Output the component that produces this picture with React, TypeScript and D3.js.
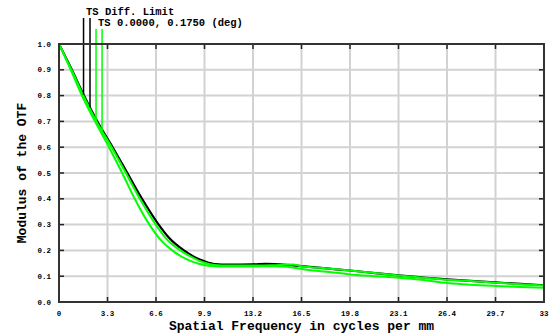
import React from "react";
import * as d3 from "d3";

// Spatial frequency (cycles/mm) and MTF value pairs
const diffLimit: [number, number][] = [
  [0, 1.0], [0.85, 0.903], [1.7, 0.8], [2.6, 0.7], [3.65, 0.6],
  [4.65, 0.5], [5.65, 0.4], [6.78, 0.3], [7.5, 0.248], [8.5, 0.2], [9.2, 0.175],
  [9.9, 0.158], [10.6, 0.147], [11.5, 0.145], [13.2, 0.146], [14.1, 0.148],
  [15.0, 0.146], [16.5, 0.139], [18.2, 0.13], [19.8, 0.122], [21.5, 0.112],
  [23.1, 0.103], [24.8, 0.095], [26.4, 0.088], [28.0, 0.082], [29.7, 0.076],
  [31.4, 0.07], [33, 0.065],
];

const fieldT: [number, number][] = [
  [0, 1.0], [0.85, 0.9], [1.7, 0.795], [2.55, 0.7], [3.58, 0.6],
  [4.55, 0.5], [5.5, 0.4], [6.58, 0.3], [7.3, 0.245], [8.25, 0.2], [9.1, 0.172],
  [9.9, 0.152], [10.6, 0.143], [11.5, 0.141], [13.2, 0.141], [14.5, 0.142],
  [15.9, 0.145], [16.5, 0.139], [18.2, 0.13], [19.8, 0.122], [21.5, 0.112],
  [23.1, 0.103], [24.8, 0.094], [26.4, 0.086], [28.0, 0.081], [29.7, 0.075],
  [31.4, 0.069], [33, 0.064],
];

const fieldS: [number, number][] = [
  [0, 1.0], [0.8, 0.9], [1.6, 0.795], [2.45, 0.7], [3.4, 0.6],
  [4.3, 0.5], [5.15, 0.4], [6.15, 0.3], [6.85, 0.245], [7.7, 0.2], [8.6, 0.168],
  [9.5, 0.148], [10.3, 0.14], [11.5, 0.138], [13.2, 0.138], [14.5, 0.139],
  [15.5, 0.137], [16.5, 0.128], [18.2, 0.117], [19.8, 0.107], [21.5, 0.1],
  [23.1, 0.094], [24.8, 0.085], [26.4, 0.074], [28.0, 0.067], [29.7, 0.062],
  [31.4, 0.058], [33, 0.055],
];

const xTicks = [0, 3.3, 6.6, 9.9, 13.2, 16.5, 19.8, 23.1, 26.4, 29.7, 33];
const xTickLabels = ["0", "3.3", "6.6", "9.9", "13.2", "16.5", "19.8", "23.1", "26.4", "29.7", "33"];
const yTicks = [0, 0.1, 0.2, 0.3, 0.4, 0.5, 0.6, 0.7, 0.8, 0.9, 1.0];
const yTickLabels = ["0.0", "0.1", "0.2", "0.3", "0.4", "0.5", "0.6", "0.7", "0.8", "0.9", "1.0"];

// Legend marker frequencies: T and S for each entry
const diffMarkers = [1.67, 2.11];
const fieldMarkers = [2.52, 2.93];

const W = 550;
const H = 335;
const left = 59;
const right = 544;
const top = 44;
const bottom = 302;

const MONO = "'Liberation Mono', 'DejaVu Sans Mono', monospace";

function valueAt(series: [number, number][], f: number): number {
  const i = d3.bisector((d: [number, number]) => d[0]).right(series, f);
  if (i <= 0) return series[0][1];
  if (i >= series.length) return series[series.length - 1][1];
  const [x0, y0] = series[i - 1];
  const [x1, y1] = series[i];
  return y0 + ((f - x0) / (x1 - x0)) * (y1 - y0);
}

export default function App() {
  const x = d3.scaleLinear().domain([0, 33]).range([left, right]);
  const y = d3.scaleLinear().domain([0, 1]).range([bottom, top]);
  const line = d3
    .line<[number, number]>()
    .x((d) => x(d[0]))
    .y((d) => y(d[1]))
    .curve(d3.curveMonotoneX);

  const tickLen = 5;

  return (
    <svg
      width={W}
      height={H}
      style={{ position: "absolute", left: 0, top: 0, background: "#fff" }}
    >
      {/* grid */}
      {xTicks.slice(1, -1).map((t) => (
        <line key={"gx" + t} x1={x(t)} x2={x(t)} y1={top} y2={bottom} stroke="#d2d2d2" strokeWidth={2} />
      ))}
      {yTicks.slice(1, -1).map((t) => (
        <line key={"gy" + t} x1={left} x2={right} y1={y(t)} y2={y(t)} stroke="#d2d2d2" strokeWidth={2} />
      ))}

      {/* tick marks on all four sides */}
      {xTicks.slice(1, -1).map((t) => (
        <g key={"tx" + t} stroke="#222" strokeWidth={1.5}>
          <line x1={x(t)} x2={x(t)} y1={bottom} y2={bottom - tickLen} />
          <line x1={x(t)} x2={x(t)} y1={top} y2={top + tickLen} />
        </g>
      ))}
      {yTicks.slice(1, -1).map((t) => (
        <g key={"ty" + t} stroke="#222" strokeWidth={1.5}>
          <line x1={left} x2={left + tickLen} y1={y(t)} y2={y(t)} />
          <line x1={right} x2={right - tickLen} y1={y(t)} y2={y(t)} />
        </g>
      ))}

      {/* curves */}
      <path d={line(diffLimit) ?? ""} fill="none" stroke="#000" strokeWidth={2.2} />
      <path d={line(fieldS) ?? ""} fill="none" stroke="#00ff00" strokeWidth={2} />
      <path d={line(fieldT) ?? ""} fill="none" stroke="#00ff00" strokeWidth={2} />

      {/* legend markers dropping onto the curves */}
      {diffMarkers.map((f) => (
        <line key={"dm" + f} x1={x(f)} x2={x(f)} y1={18} y2={y(valueAt(diffLimit, f))} stroke="#000" strokeWidth={1.5} />
      ))}
      {fieldMarkers.map((f, i) => (
        <line
          key={"fm" + f}
          x1={x(f)}
          x2={x(f)}
          y1={29}
          y2={y(valueAt(i === 0 ? fieldT : fieldS, f))}
          stroke="#00ff00"
          strokeWidth={1.5}
        />
      ))}

      {/* frame */}
      <rect x={left} y={top} width={right - left} height={bottom - top} fill="none" stroke="#333" strokeWidth={2} />

      {/* tick labels */}
      {yTicks.map((t, i) => (
        <text key={"ly" + t} x={51} y={y(t) + 2.5} textAnchor="end" fontFamily={MONO} fontWeight="bold" fontSize={7.5} fill="#000">
          {yTickLabels[i]}
        </text>
      ))}
      {xTicks.map((t, i) => (
        <text key={"lx" + t} x={x(t)} y={316} textAnchor="middle" fontFamily={MONO} fontWeight="bold" fontSize={7.5} fill="#000">
          {xTickLabels[i]}
        </text>
      ))}

      {/* axis titles */}
      <text x={(left + right) / 2} y={330} textAnchor="middle" fontFamily={MONO} fontWeight="bold" fontSize={13} fill="#000">
        Spatial Frequency in cycles per mm
      </text>
      <text
        transform={`translate(26, ${(top + bottom) / 2}) rotate(-90)`}
        textAnchor="middle"
        fontFamily={MONO}
        fontWeight="bold"
        fontSize={13}
        fill="#000"
      >
        Modulus of the OTF
      </text>

      {/* legend text */}
      <text x={86} y={15} fontFamily={MONO} fontWeight="bold" fontSize={10.5} fill="#000">
        TS Diff. Limit
      </text>
      <text x={98} y={26} fontFamily={MONO} fontWeight="bold" fontSize={10.5} fill="#000">
        TS 0.0000, 0.1750 (deg)
      </text>
    </svg>
  );
}
